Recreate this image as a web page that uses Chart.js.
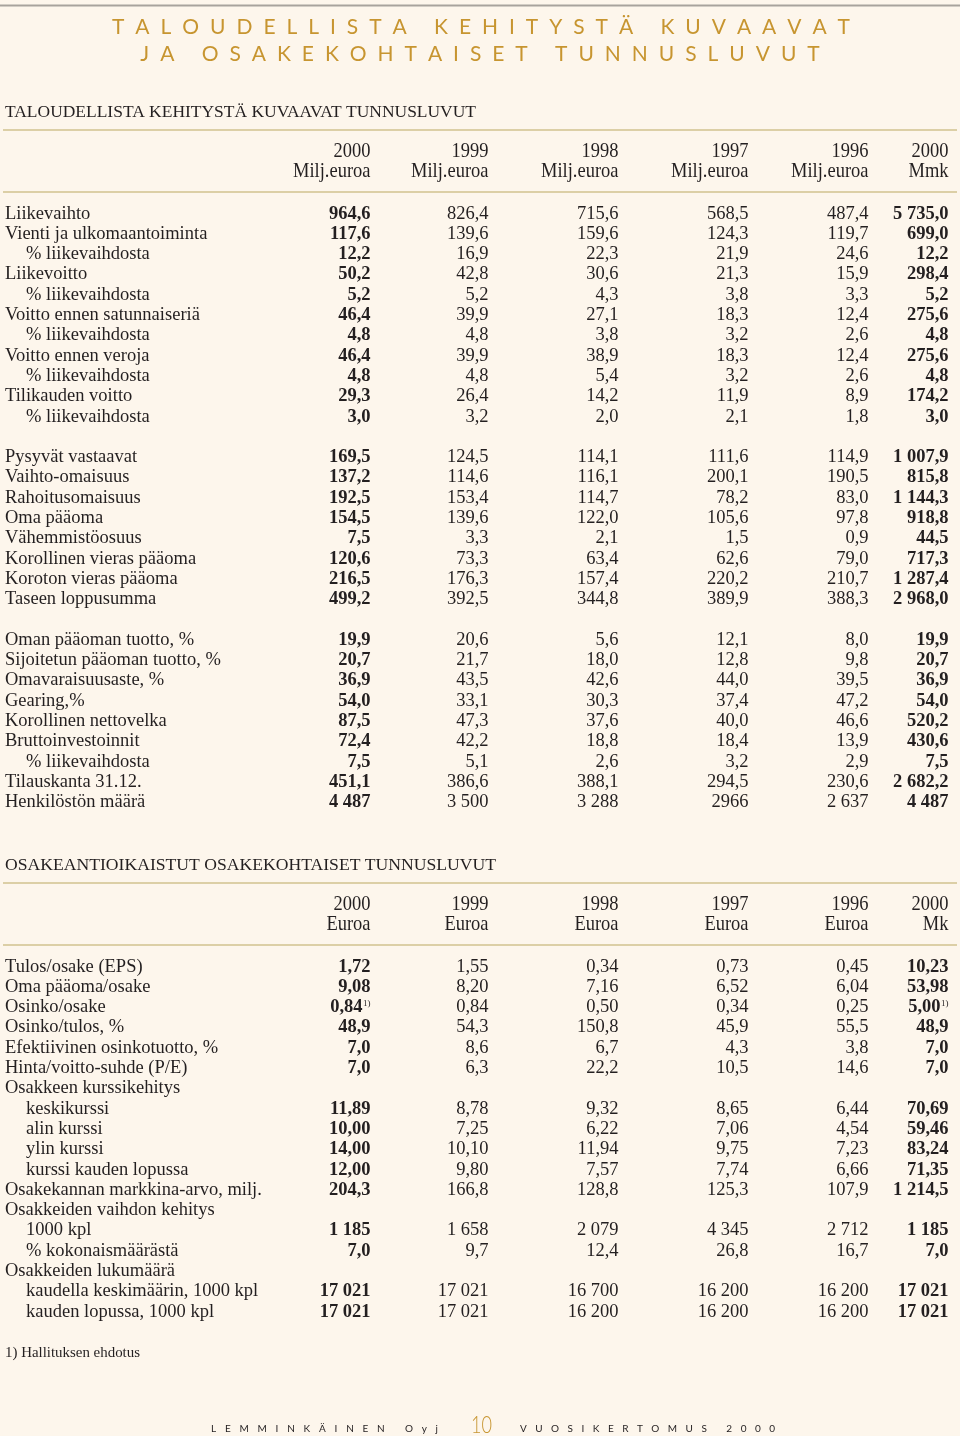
<!DOCTYPE html>
<html><head><meta charset="utf-8">
<script src="https://cdn.jsdelivr.net/npm/chart.js@4/dist/chart.umd.min.js"></script>
<style>html,body{margin:0;padding:0;background:#fdf6ec;}canvas{display:block}</style>
</head><body>
<div style="width:960px;height:1436px"><canvas id="c" width="960" height="1436"></canvas></div>
<script>
// ---------- DATA ----------
const pageTitle = ['TALOUDELLISTA KEHITYSTÄ KUVAAVAT', 'JA OSAKEKOHTAISET TUNNUSLUVUT'];
const section1Title = 'TALOUDELLISTA KEHITYSTÄ KUVAAVAT TUNNUSLUVUT';
const section2Title = 'OSAKEANTIOIKAISTUT OSAKEKOHTAISET TUNNUSLUVUT';
const footnote = '1) Hallituksen ehdotus';
const footerLeft = 'LEMMINKÄINEN Oyj';
const footerPage = '10';
const footerRight = 'VUOSIKERTOMUS 2000';

const colYears = ['2000', '1999', '1998', '1997', '1996', '2000'];
const units1 = ['Milj.euroa', 'Milj.euroa', 'Milj.euroa', 'Milj.euroa', 'Milj.euroa', 'Mmk'];
const units2 = ['Euroa', 'Euroa', 'Euroa', 'Euroa', 'Euroa', 'Mk'];

const labels1 = ['Liikevaihto', 'Vienti ja ulkomaantoiminta', '% liikevaihdosta', 'Liikevoitto', '% liikevaihdosta',
  'Voitto ennen satunnaiseriä', '% liikevaihdosta', 'Voitto ennen veroja', '% liikevaihdosta', 'Tilikauden voitto',
  '% liikevaihdosta', '',
  'Pysyvät vastaavat', 'Vaihto-omaisuus', 'Rahoitusomaisuus', 'Oma pääoma', 'Vähemmistöosuus',
  'Korollinen vieras pääoma', 'Koroton vieras pääoma', 'Taseen loppusumma', '',
  'Oman pääoman tuotto, %', 'Sijoitetun pääoman tuotto, %', 'Omavaraisuusaste, %', 'Gearing,%',
  'Korollinen nettovelka', 'Bruttoinvestoinnit', '% liikevaihdosta', 'Tilauskanta 31.12.', 'Henkilöstön määrä'];
const indent1 = [2, 4, 6, 8, 10, 27];

const t1_2000 = ['964,6','117,6','12,2','50,2','5,2','46,4','4,8','46,4','4,8','29,3','3,0','',
  '169,5','137,2','192,5','154,5','7,5','120,6','216,5','499,2','',
  '19,9','20,7','36,9','54,0','87,5','72,4','7,5','451,1','4 487'];
const t1_1999 = ['826,4','139,6','16,9','42,8','5,2','39,9','4,8','39,9','4,8','26,4','3,2','',
  '124,5','114,6','153,4','139,6','3,3','73,3','176,3','392,5','',
  '20,6','21,7','43,5','33,1','47,3','42,2','5,1','386,6','3 500'];
const t1_1998 = ['715,6','159,6','22,3','30,6','4,3','27,1','3,8','38,9','5,4','14,2','2,0','',
  '114,1','116,1','114,7','122,0','2,1','63,4','157,4','344,8','',
  '5,6','18,0','42,6','30,3','37,6','18,8','2,6','388,1','3 288'];
const t1_1997 = ['568,5','124,3','21,9','21,3','3,8','18,3','3,2','18,3','3,2','11,9','2,1','',
  '111,6','200,1','78,2','105,6','1,5','62,6','220,2','389,9','',
  '12,1','12,8','44,0','37,4','40,0','18,4','3,2','294,5','2966'];
const t1_1996 = ['487,4','119,7','24,6','15,9','3,3','12,4','2,6','12,4','2,6','8,9','1,8','',
  '114,9','190,5','83,0','97,8','0,9','79,0','210,7','388,3','',
  '8,0','9,8','39,5','47,2','46,6','13,9','2,9','230,6','2 637'];
const t1_mmk = ['5 735,0','699,0','12,2','298,4','5,2','275,6','4,8','275,6','4,8','174,2','3,0','',
  '1 007,9','815,8','1 144,3','918,8','44,5','717,3','1 287,4','2 968,0','',
  '19,9','20,7','36,9','54,0','520,2','430,6','7,5','2 682,2','4 487'];

const labels2 = ['Tulos/osake (EPS)', 'Oma pääoma/osake', 'Osinko/osake', 'Osinko/tulos, %',
  'Efektiivinen osinkotuotto, %', 'Hinta/voitto-suhde (P/E)', 'Osakkeen kurssikehitys', 'keskikurssi',
  'alin kurssi', 'ylin kurssi', 'kurssi kauden lopussa', 'Osakekannan markkina-arvo, milj.',
  'Osakkeiden vaihdon kehitys', '1000 kpl', '% kokonaismäärästä', 'Osakkeiden lukumäärä',
  'kaudella keskimäärin, 1000 kpl', 'kauden lopussa, 1000 kpl'];
const indent2 = [7, 8, 9, 10, 13, 14, 16, 17];

const t2_2000 = ['1,72','9,08','0,84^1)','48,9','7,0','7,0','','11,89','10,00','14,00','12,00','204,3','','1 185','7,0','','17 021','17 021'];
const t2_1999 = ['1,55','8,20','0,84','54,3','8,6','6,3','','8,78','7,25','10,10','9,80','166,8','','1 658','9,7','','17 021','17 021'];
const t2_1998 = ['0,34','7,16','0,50','150,8','6,7','22,2','','9,32','6,22','11,94','7,57','128,8','','2 079','12,4','','16 700','16 200'];
const t2_1997 = ['0,73','6,52','0,34','45,9','4,3','10,5','','8,65','7,06','9,75','7,74','125,3','','4 345','26,8','','16 200','16 200'];
const t2_1996 = ['0,45','6,04','0,25','55,5','3,8','14,6','','6,44','4,54','7,23','6,66','107,9','','2 712','16,7','','16 200','16 200'];
const t2_mk = ['10,23','53,98','5,00^1)','48,9','7,0','7,0','','70,69','59,46','83,24','71,35','1 214,5','','1 185','7,0','','17 021','17 021'];

// ---------- LAYOUT / STYLE ----------
const BG = '#fdf6ec', INK = '#231f20', GOLD = '#c79530', RULE = '#dccfa6', GREY = '#a8a39d';
const SERIF = '"Liberation Serif", "DejaVu Serif", serif';
const SANS = 'Lato, "Open Sans", sans-serif';
const colRight = [370.5, 488.5, 618.5, 748.5, 868.5, 948.5];
const labelX = 5, indentX = 26;
const rowStep = 20.3;
const tableShift = 753;          // vertical offset of second table
const t1RowBase = 218.5;         // baseline of first body row
const bodyFont = '18.5px ' + SERIF, bodyBold = 'bold 18.5px ' + SERIF;
const headFont = '21px ' + SERIF, headScale = 0.88;

const cols1 = [t1_2000, t1_1999, t1_1998, t1_1997, t1_1996, t1_mmk];
const cols2 = [t2_2000, t2_1999, t2_1998, t2_1997, t2_1996, t2_mk];

function rowY(table, i) { return t1RowBase + (table === 2 ? tableShift : 0) + i * rowStep; }

const datasets = [];
function addText(points, font, align, sx) {
  datasets.push({ data: points.filter(p => p.txt !== ''), pointRadius: 0, showLine: false,
    textFont: font, textAlign: align, textScale: sx || 1 });
}
[[1, labels1, indent1, cols1, units1], [2, labels2, indent2, cols2, units2]].forEach(([t, labels, ind, cols, units]) => {
  addText(labels.map((l, i) => ({ x: ind.includes(i) ? indentX : labelX, y: rowY(t, i), txt: l })), bodyFont, 'left');
  cols.forEach((vals, c) => {
    const bold = (c === 0 || c === cols.length - 1);
    addText(vals.map((v, i) => ({ x: colRight[c], y: rowY(t, i), txt: v })), bold ? bodyBold : bodyFont, 'right');
  });
  const off = t === 2 ? tableShift : 0;
  addText(colYears.map((y, c) => ({ x: colRight[c], y: 157 + off, txt: y })), headFont, 'right', headScale);
  addText(units.map((u, c) => ({ x: colRight[c], y: 176.5 + off, txt: u })), headFont, 'right', headScale);
});

// ---------- DRAWING HELPERS ----------
function spaced(ctx, text, x0, x1, y) {
  const chars = [...text];
  const widths = chars.map(ch => ctx.measureText(ch).width);
  const total = widths.reduce((a, b) => a + b, 0);
  const s = (x1 - x0 - total) / (chars.length - 1);
  let x = x0;
  ctx.textAlign = 'left';
  chars.forEach((ch, k) => { ctx.fillText(ch, x, y); x += widths[k] + s; });
  return s;
}
function spacedCentered(ctx, text, cx, s, y) {
  const chars = [...text];
  const widths = chars.map(ch => ctx.measureText(ch).width);
  const total = widths.reduce((a, b) => a + b, 0) + s * (chars.length - 1);
  let x = cx - total / 2;
  ctx.textAlign = 'left';
  chars.forEach((ch, k) => { ctx.fillText(ch, x, y); x += widths[k] + s; });
}
function fitted(ctx, text, x, y, width) {
  const w = ctx.measureText(text).width;
  ctx.save(); ctx.translate(x, y); ctx.scale(width / w, 1);
  ctx.textAlign = 'left'; ctx.fillText(text, 0, 0); ctx.restore();
}
function hline(ctx, y, x0, x1, color, lw) {
  ctx.strokeStyle = color; ctx.lineWidth = lw;
  ctx.beginPath(); ctx.moveTo(x0, y); ctx.lineTo(x1, y); ctx.stroke();
}

const pagePlugin = {
  id: 'page',
  beforeDraw(chart) {
    const ctx = chart.ctx;
    ctx.save();
    ctx.fillStyle = BG; ctx.fillRect(0, 0, chart.width, chart.height);
    hline(ctx, 5.5, 0, 960, GREY, 2);
    // main title
    ctx.fillStyle = GOLD; ctx.textBaseline = 'alphabetic';
    ctx.font = '21px ' + SANS;
    const s = spaced(ctx, pageTitle[0], 112, 850, 33.5);
    spacedCentered(ctx, pageTitle[1], 480, s, 61);
    // section titles & rules
    ctx.fillStyle = INK;
    ctx.font = '16.5px ' + SERIF;
    fitted(ctx, section1Title, 5, 117, 471);
    fitted(ctx, section2Title, 5, 117 + tableShift, 491);
    [130, 192, 130 + tableShift, 192 + tableShift].forEach(y => hline(ctx, y, 3, 957, RULE, 2));
    // footnote
    ctx.font = '15px ' + SERIF;
    fitted(ctx, footnote, 5, 1357, 135);
    // footer
    ctx.fillStyle = INK; ctx.font = '10px ' + SANS;
    spaced(ctx, footerLeft, 211, 438, 1432);
    spaced(ctx, footerRight, 520, 775, 1432);
    ctx.fillStyle = GOLD; ctx.font = '300 24px ' + SANS;
    fitted(ctx, footerPage, 471, 1433, 21);
    ctx.restore();
  },
  afterDatasetsDraw(chart) {
    const ctx = chart.ctx;
    ctx.save();
    ctx.fillStyle = INK; ctx.textBaseline = 'alphabetic';
    chart.data.datasets.forEach((ds, i) => {
      const meta = chart.getDatasetMeta(i);
      meta.data.forEach((el, j) => {
        const raw = ds.data[j];
        let txt = raw.txt, sup = '';
        if (txt.includes('^')) { [txt, sup] = txt.split('^'); }
        let x = el.x;
        if (sup) {
          ctx.font = '9px ' + SERIF;
          const sw = ctx.measureText(sup).width;
          ctx.textAlign = 'left';
          ctx.fillText(sup, x - sw, el.y - 6);
          x -= sw + 0.5;
        }
        ctx.font = ds.textFont;
        ctx.textAlign = ds.textAlign;
        ctx.save(); ctx.translate(x, el.y); ctx.scale(ds.textScale, 1);
        ctx.fillText(txt, 0, 0); ctx.restore();
      });
    });
    ctx.restore();
  }
};

new Chart(document.getElementById('c'), {
  type: 'scatter',
  data: { datasets },
  options: {
    responsive: false, animation: false, devicePixelRatio: 1, events: [],
    layout: { padding: 0 },
    plugins: { legend: { display: false }, tooltip: { enabled: false } },
    scales: {
      x: { type: 'linear', min: 0, max: 960, display: false },
      y: { type: 'linear', min: 0, max: 1436, reverse: true, display: false }
    }
  },
  plugins: [pagePlugin]
});
</script>
</body></html>
